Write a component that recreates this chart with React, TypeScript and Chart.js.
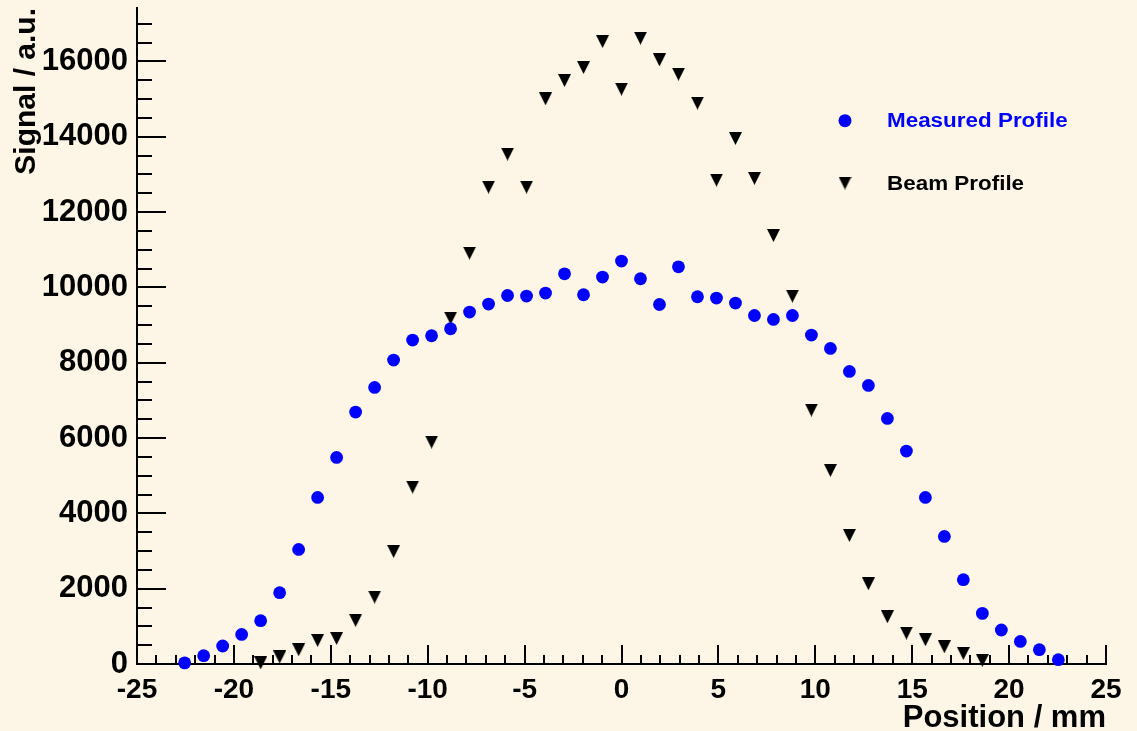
import React, { useEffect, useRef } from 'react';
import { Chart, registerables } from 'chart.js';

Chart.register(...registerables);

// ---- axis ranges & ticks ----
const X_MIN = -25;
const X_MAX = 25;
const Y_MIN = 0;
const Y_MAX = 17420;
const X_MAJOR = 5;
const X_MINOR = 1;
const Y_MAJOR = 2000;
const Y_MINOR = 500;
const yTickValues = [0, 2000, 4000, 6000, 8000, 10000, 12000, 14000, 16000];
const xTickValues = [-25, -20, -15, -10, -5, 0, 5, 10, 15, 20, 25];

// ---- data ----
const measuredPositions = [
  -22.54, -21.56, -20.58, -19.6, -18.62, -17.64, -16.66, -15.68, -14.7, -13.72,
  -12.74, -11.76, -10.78, -9.8, -8.82, -7.84, -6.86, -5.88, -4.9, -3.92,
  -2.94, -1.96, -0.98, 0, 0.98, 1.96, 2.94, 3.92, 4.9, 5.88,
  6.86, 7.84, 8.82, 9.8, 10.78, 11.76, 12.74, 13.72, 14.7, 15.68,
  16.66, 17.64, 18.62, 19.6, 20.58, 21.56, 22.54,
];
const measuredSignal = [
  30, 220, 478, 786, 1150, 1893, 3043, 4423, 5485, 6690,
  7344, 8071, 8602, 8716, 8902, 9346, 9558, 9786, 9770, 9850,
  10362, 9805, 10275, 10700, 10230, 9547, 10548, 9752, 9717, 9584,
  9255, 9149, 9255, 8735, 8380, 7769, 7397, 6521, 5655, 4423,
  3388, 2238, 1344, 903, 600, 380, 114,
];
const beamPositions = [
  -18.62, -17.64, -16.66, -15.68, -14.7, -13.72, -12.74, -11.76, -10.78, -9.8,
  -8.82, -7.84, -6.86, -5.88, -4.9, -3.92, -2.94, -1.96, -0.98, 0,
  0.98, 1.96, 2.94, 3.92, 4.9, 5.88, 6.86, 7.84, 8.82, 9.8,
  10.78, 11.76, 12.74, 13.72, 14.7, 15.68, 16.66, 17.64, 18.62,
];
const beamSignal = [
  30, 186, 380, 627, 680, 1158, 1779, 2990, 4699, 5894,
  9186, 10912, 12664, 13540, 12664, 15009, 15495, 15840, 16530, 15266,
  16620, 16044, 15664, 14895, 12850, 13955, 12896, 11380, 9770, 6744,
  5141, 3414, 2132, 1256, 823, 645, 459, 281, 96,
];
const seriesLabels = ['Measured Profile', 'Beam Profile'];
const xTitle = 'Position / mm';
const yTitle = 'Signal / a.u.';

// ---- styles ----
const BG = '#fdf6e6';
const FONT = '"Liberation Sans", Arial, Helvetica, sans-serif';
const BLUE = '#0000ff';
const BLACK = '#000000';

function makeTriangle(size: number, color: string) {
  const c = document.createElement('canvas');
  c.width = size;
  c.height = size;
  const g = c.getContext('2d')!;
  g.fillStyle = color;
  g.beginPath();
  g.moveTo(0, 0);
  g.lineTo(size, 0);
  g.lineTo(size / 2, size);
  g.closePath();
  g.fill();
  return c;
}

const axisTicks = {
  id: 'axisTicks',
  beforeDatasetsDraw(chart: any) {
    const { ctx, chartArea, scales } = chart;
    const x = scales.x;
    const y = scales.y;
    ctx.save();
    ctx.strokeStyle = BLACK;
    ctx.lineWidth = 2;
    ctx.beginPath();
    for (let v = X_MIN; v <= X_MAX + 1e-9; v += X_MINOR) {
      const px = Math.round(x.getPixelForValue(v));
      const major = Math.abs(v % X_MAJOR) < 1e-9;
      ctx.moveTo(px, chartArea.bottom);
      ctx.lineTo(px, chartArea.bottom - (major ? 19 : 9));
    }
    for (let v = Y_MIN; v <= Y_MAX + 1e-9; v += Y_MINOR) {
      const py = Math.round(y.getPixelForValue(v));
      const major = Math.abs(v % Y_MAJOR) < 1e-9;
      ctx.moveTo(chartArea.left, py);
      ctx.lineTo(chartArea.left + (major ? 29 : 15), py);
    }
    ctx.stroke();
    ctx.restore();
  },
};

const makeLegend = (tri: HTMLCanvasElement) => ({
  id: 'rootLegend',
  afterDatasetsDraw(chart: any) {
    const { ctx } = chart;
    const markerX = 845;
    const textX = 887;
    const rows = [
      { y: 120.7, color: BLUE, label: seriesLabels[0], kind: 'circle' },
      { y: 183, color: BLACK, label: seriesLabels[1], kind: 'tri' },
    ];
    ctx.save();
    for (const r of rows) {
      if (r.kind === 'circle') {
        ctx.fillStyle = r.color;
        ctx.beginPath();
        ctx.arc(markerX, r.y, 6.5, 0, Math.PI * 2);
        ctx.fill();
      } else {
        ctx.drawImage(tri, markerX - tri.width / 2, r.y - tri.height / 2);
      }
      ctx.save();
      ctx.translate(textX, r.y + 6.7);
      ctx.scale(1.15, 1);
      ctx.fillStyle = r.color;
      ctx.font = `bold 19.5px ${FONT}`;
      ctx.textBaseline = 'alphabetic';
      ctx.textAlign = 'left';
      ctx.fillText(r.label, 0, 0);
      ctx.restore();
    }
    ctx.restore();
  },
});

export default function App() {
  const ref = useRef<HTMLCanvasElement>(null);

  useEffect(() => {
    const tri = makeTriangle(13, BLACK);
    const chart = new Chart(ref.current!, {
      type: 'scatter',
      data: {
        datasets: [
          {
            label: seriesLabels[0],
            data: measuredPositions.map((x, i) => ({ x, y: measuredSignal[i] })),
            pointStyle: 'circle',
            pointRadius: 6.4,
            pointBackgroundColor: BLUE,
            pointBorderWidth: 0,
            showLine: false,
            clip: false as any,
          },
          {
            label: seriesLabels[1],
            data: beamPositions.map((x, i) => ({ x, y: beamSignal[i] })),
            pointStyle: tri as any,
            pointRadius: 6.5,
            pointBackgroundColor: BLACK,
            pointBorderWidth: 0,
            showLine: false,
            clip: false as any,
          },
        ],
      },
      options: {
        responsive: false,
        maintainAspectRatio: false,
        animation: false,
        layout: { padding: { top: 8, right: 31, left: 0, bottom: 0 } },
        plugins: {
          legend: { display: false },
          tooltip: { enabled: false },
        },
        scales: {
          x: {
            type: 'linear',
            position: 'bottom',
            min: X_MIN,
            max: X_MAX,
            grid: { display: false, drawTicks: false },
            border: { display: true, color: BLACK, width: 2 },
            afterBuildTicks: (s: any) => {
              s.ticks = xTickValues.map((value) => ({ value }));
            },
            ticks: {
              autoSkip: false,
              maxRotation: 0,
              padding: 9,
              color: BLACK,
              font: { family: FONT, size: 28, weight: 'bold' },
              callback: (v: any) => String(v),
            },
            title: {
              display: true,
              text: xTitle,
              align: 'end',
              color: BLACK,
              font: { family: FONT, size: 31, weight: 'bold', lineHeight: 0.8 },
              padding: { top: 0, bottom: 0 },
            },
            afterFit: (s: any) => {
              s.height = 67;
              s.paddingLeft = 0;
              s.paddingRight = 0;
            },
          },
          y: {
            type: 'linear',
            min: Y_MIN,
            max: Y_MAX,
            grid: { display: false, drawTicks: false },
            border: { display: true, color: BLACK, width: 2 },
            afterBuildTicks: (s: any) => {
              s.ticks = yTickValues.map((value) => ({ value }));
            },
            ticks: {
              autoSkip: false,
              padding: 9,
              color: BLACK,
              font: { family: FONT, size: 31, weight: 'bold' },
              callback: (v: any) => String(v),
            },
            title: {
              display: true,
              text: yTitle,
              align: 'end',
              color: BLACK,
              font: { family: FONT, size: 30, weight: 'bold', lineHeight: 1 },
              padding: { top: 12, bottom: 0 },
            },
            afterFit: (s: any) => {
              s.width = 137;
              s.paddingTop = 0;
              s.paddingBottom = 0;
            },
          },
        } as any,
      },
      plugins: [axisTicks, makeLegend(tri)],
    });
    return () => chart.destroy();
  }, []);

  return (
    <div
      style={{
        position: 'fixed',
        left: 0,
        top: 0,
        width: 1137,
        height: 731,
        background: BG,
      }}
    >
      <canvas
        ref={ref}
        width={1137}
        height={731}
        style={{ display: 'block', width: 1137, height: 731 }}
      />
    </div>
  );
}
